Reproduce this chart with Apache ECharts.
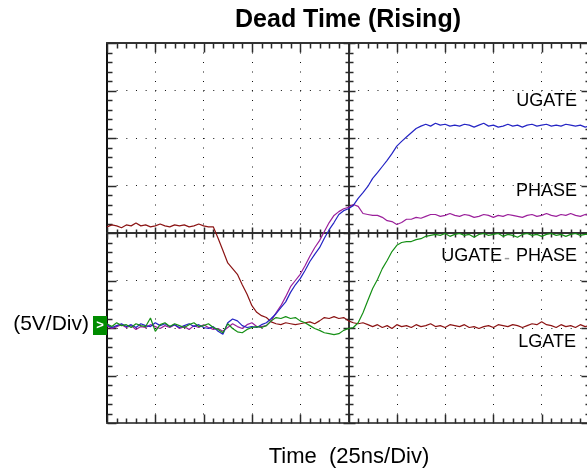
<!DOCTYPE html>
<html><head><meta charset="utf-8">
<script src="https://cdn.jsdelivr.net/npm/echarts@6/dist/echarts.min.js"></script>
<style>html,body{margin:0;padding:0;background:#fff;overflow:hidden}#c{width:587px;height:472px}</style>
</head><body><div id="c"></div>
<script>
// Time samples (ns), 25 ns/div, 10 divisions
const TIME_NS = [0,2.5,5,7.5,10,12.5,15,17.5,20,22.5,25,27.5,30,32.5,35,37.5,40,42.5,45,47.5,
50,52.5,55,57.5,60,62.5,65,67.5,70,72.5,75,77.5,80,82.5,85,87.5,90,92.5,95,97.5,
100,102.5,105,107.5,110,112.5,115,117.5,120,122.5,125,127.5,130,132.5,135,137.5,140,142.5,145,147.5,
150,152.5,155,157.5,160,162.5,165,167.5,170,172.5,175,177.5,180,182.5,185,187.5,190,192.5,195,197.5,
200,202.5,205,207.5,210,212.5,215,217.5,220,222.5,225,227.5,230,232.5,235,237.5,240,242.5,245,247.5,250];

// Volts (5 V/div), relative to the ground marker
const LGATE = [10.4,10.6,10.5,10.3,10.6,10.5,10.8,10.5,10.6,10.4,10.5,10.7,10.5,10.4,10.6,10.5,10.6,10.4,10.5,10.7,10.5,10.4,
10.4,9.2,7.9,6.6,6.0,5.4,4.3,3.3,2.1,1.4,1.05,0.85,0.4,0.2,
0.1,0.3,0.2,0.1,0.2,0.3,0.4,0.2,0.5,0.85,0.75,0.95,0.75,0.85,0.5,0.3,0.2,0.3,0.1,-0.1,
0.1,-0.2,0.0,-0.3,0.1,-0.1,0.0,-0.2,0.1,-0.1,0.0,0.2,-0.1,0.0,-0.2,0.1,0.0,-0.1,0.1,-0.2,-0.1,-0.3,-0.1,0.0,-0.2,0.1,0.0,-0.1,0.1,0.0,-0.2,0.0,0.2,0.1,0.4,0.1,0.0,-0.2,0.1,-0.1,0.0,-0.2,0.1,-0.1,0.0];

const UGATE = [0.1,-0.2,0.0,0.2,-0.1,0.1,-0.2,0.2,0.0,-0.1,0.3,0.0,0.2,-0.1,0.1,-0.2,0.0,0.2,-0.1,0.1,-0.2,-0.3,-0.1,-0.6,-0.9,0.3,0.7,0.5,0.0,-0.2,-0.1,-0.2,
0.1,0.3,0.75,1.25,1.9,2.5,3.5,4.3,4.95,5.8,6.75,7.5,8.2,9.2,10.1,10.85,11.7,12.1,12.3,12.65,13.4,14.0,14.65,15.5,16.1,16.75,17.4,18.1,18.9,19.4,19.85,20.3,20.75,21.0,
21.2,21.0,21.3,21.1,21.2,21.0,21.1,21.0,21.2,21.1,20.9,21.1,21.3,21.0,21.1,20.9,21.0,21.2,21.0,21.1,20.9,21.1,21.2,21.0,21.1,21.2,21.0,21.1,21.0,21.2,21.1,21.0,21.1,20.9,21.0];

const PHASE = [0.0,-0.3,-0.1,0.1,-0.2,0.0,-0.4,-0.1,-0.2,0.1,-0.1,-0.3,0.0,-0.2,0.1,-0.3,-0.1,-0.4,0.0,-0.2,0.1,-0.2,-0.4,-0.3,-0.6,-0.2,0.2,-0.1,-0.3,0.1,0.3,-0.1,
-0.1,0.0,0.5,1.35,2.1,3.05,4.1,4.75,5.4,6.3,7.3,8.2,8.95,9.9,10.85,11.6,12.0,12.3,12.45,12.75,12.55,11.8,11.7,11.6,11.6,11.4,11.05,10.95,10.65,10.85,11.2,11.2,11.4,11.3,11.5,11.7,
11.7,11.5,11.6,11.8,11.6,11.5,11.7,11.6,11.4,11.5,11.7,11.6,11.4,11.6,11.5,11.7,11.6,11.5,11.4,11.6,11.7,11.5,11.6,11.8,11.6,11.5,11.7,11.6,11.8,11.6,11.5,11.7,11.6];

const UGATE_PHASE = [0.2,-0.1,0.3,0.0,0.1,-0.2,0.2,0.0,-0.1,0.8,-0.6,0.1,0.3,-0.1,0.2,0.0,-0.2,0.1,0.3,-0.1,0.0,0.2,-0.2,-0.4,
-0.75,0.2,-0.3,-0.65,-0.75,-0.4,-0.2,-0.1,-0.2,0.0,0.5,0.85,0.75,0.95,0.75,0.85,0.5,0.3,0.0,-0.3,-0.5,-0.75,-0.85,-0.95,-0.85,-0.5,-0.3,-0.2,0.3,1.35,2.65,3.9,4.85,6.0,6.85,7.8,8.45,8.75,8.85,8.85,9.05,9.15,9.4,9.5,
9.6,9.5,9.7,9.4,9.6,9.7,9.5,9.6,9.3,9.6,9.7,9.5,9.6,9.7,9.4,9.6,9.5,9.3,9.6,9.7,9.5,9.6,9.4,9.6,9.7,9.5,9.6,9.4,9.6,9.7,9.5,9.6,9.6];

const SERIES_NAMES = ['LGATE','PHASE','UGATE','UGATE-PHASE'];
const SERIES_COLORS = ['#8b1414','#9b209b','#2424c4','#169016'];
const SERIES_VALUES = [LGATE, PHASE, UGATE, UGATE_PHASE];

const TIME_MAX = 250;          // 10 div x 25 ns
const VOLT_MIN = -10.25;        // ground marker ~2.05 div above bottom
const VOLT_MAX = 29.75;

const FONT = '"Liberation Sans", Arial, Helvetica, sans-serif';
const chart = echarts.init(document.getElementById('c'), null, {renderer:'canvas'});

function gratAxis(min, max, pos, lineColor, split, dash){
  return {
    type:'value', gridIndex:0, min:min, max:max, interval:1, position:pos,
    axisLine:{show:true, onZero:false, lineStyle:{color:lineColor, width:2}},
    axisTick:{show:false}, minorTick:{show:false},
    splitLine:{show:split, lineStyle:{color:'#111', width:1, type:dash}},
    axisLabel:{show:false}
  };
}
function centerAxis(min, max, pos){
  return {
    type:'value', gridIndex:0, min:min, max:max, interval:1, position:pos,
    axisLine:{show:true, onZero:true, onZeroAxisIndex:0, lineStyle:{color:'#333', width:2}},
    axisTick:{show:false}, minorTick:{show:false}, splitLine:{show:false}, axisLabel:{show:false}
  };
}

const xAxes = [
  gratAxis(-5, 5, 'bottom', '#555', true, [1, 8.5]),
  gratAxis(-5, 5, 'top', '#333', false),
  centerAxis(-5, 5, 'bottom'),
  {type:'value', gridIndex:0, min:0, max:TIME_MAX, show:false, axisLine:{onZero:false}}
];
const yAxes = [
  gratAxis(-4, 4, 'left', '#111', true, [1, 8.66]),
  gratAxis(-4, 4, 'right', '#333', false),
  centerAxis(-4, 4, 'left'),
  {type:'value', gridIndex:0, min:VOLT_MIN, max:VOLT_MAX, show:false, axisLine:{onZero:false}}
];

// Graticule tick marks (5 minor per division), in division units:
// [x, y, kind, major]; kind 0 top border, 1 bottom border, 2 left border, 3 right border, 4 centre horizontal, 5 centre vertical
const TICKS = [];
for (let k = -25; k <= 25; k++) {
  const major = (k % 5 === 0) ? 1 : 0;
  TICKS.push([k/5, 4, 0, major], [k/5, -4, 1, major], [k/5, 0, 4, major]);
}
for (let k = -20; k <= 20; k++) {
  const major = (k % 5 === 0) ? 1 : 0;
  TICKS.push([-5, k/5, 2, major], [5, k/5, 3, major], [0, k/5, 5, major]);
}

function renderTick(params, api){
  const p = api.coord([api.value(0), api.value(1)]);
  const kind = api.value(2), major = api.value(3);
  const x = Math.round(p[0]) + 0.5, y = Math.round(p[1]) + 0.5;
  const bl = major ? 9 : 5, cl = major ? 6 : 4;
  let s;
  if (kind === 0) s = {x1:x, y1:y, x2:x, y2:y+bl};
  else if (kind === 1) s = {x1:x, y1:y, x2:x, y2:y-bl};
  else if (kind === 2) s = {x1:x, y1:y, x2:x+bl, y2:y};
  else if (kind === 3) s = {x1:x, y1:y, x2:x-bl, y2:y};
  else if (kind === 4) s = {x1:x, y1:y-cl, x2:x, y2:y+cl};
  else s = {x1:x-cl, y1:y, x2:x+cl, y2:y};
  return {type:'line', shape:s, style:{stroke:'#2a2a2a', lineWidth:1.5}};
}

const series = [{
  type:'custom', name:'graticule', xAxisIndex:0, yAxisIndex:0, data:TICKS,
  renderItem:renderTick, clip:false, silent:true, z:2
}].concat(SERIES_VALUES.map((vals, k) => ({
  type:'line', name:SERIES_NAMES[k], xAxisIndex:3, yAxisIndex:3,
  data: TIME_NS.map((t,i)=>[t, vals[i]]),
  showSymbol:false, symbol:'none', silent:true,
  lineStyle:{color:SERIES_COLORS[k], width:1.2}, z:3+k
})));

const txt = (x,y,text,size,align,extra) => ({type:'text', x:x, y:y, z:100,
  style:Object.assign({text:text, font:size+'px '+FONT, fill:'#000', align:align, verticalAlign:'middle'}, extra||{})});

chart.setOption({
  animation:false,
  backgroundColor:'#fff',
  grid:{left:107, top:43, width:483, height:380, containLabel:false, outerBoundsMode:'none'},
  xAxis:xAxes, yAxis:yAxes, series:series,
  graphic:[
    txt(348, 20, 'Dead Time (Rising)', 25, 'center', {font:'bold 25px '+FONT}),
    txt(577, 101, 'UGATE', 18, 'right'),
    txt(577, 191, 'PHASE', 18, 'right'),
    txt(502, 256, 'UGATE', 18, 'right'),
    txt(507, 259, '-', 18, 'center', {fill:'#999'}),
    txt(577, 256, 'PHASE', 18, 'right'),
    txt(576, 342, 'LGATE', 18, 'right'),
    txt(89, 324, '(5V/Div)', 21, 'right'),
    txt(349, 457, 'Time  (25ns/Div)', 22, 'center'),
    {type:'rect', z:100, shape:{x:93, y:316, width:14, height:19}, style:{fill:'#008c00'}},
    txt(100, 325, '>', 13, 'center', {fill:'#fff', font:'bold 13px '+FONT})
  ]
});
</script></body></html>
